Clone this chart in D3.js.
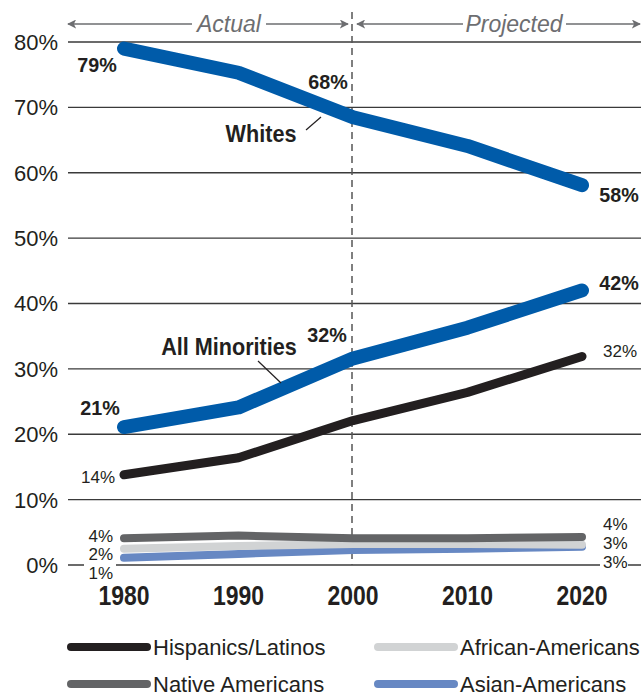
<!DOCTYPE html>
<html>
<head>
<meta charset="utf-8">
<script src="https://cdn.jsdelivr.net/npm/d3@7"></script>
<style>
  body { margin: 0; background: #fff; }
  text { font-family: "Liberation Sans", Arial, sans-serif; fill: #231f20; }
</style>
</head>
<body>
<div id="chart"></div>
<script>
// values (percent of population)
const years = [1980, 1990, 2000, 2010, 2020];
const whites = [79, 75.3, 68.5, 64.1, 58.1];
const minorities = [21.1, 24.1, 31.6, 36.3, 42];
const hispanics = [13.8, 16.4, 22.1, 26.4, 31.9];
const nativeAm = [4.1, 4.5, 4.1, 4.1, 4.3];
const africanAm = [2.5, 2.9, 3.2, 3.2, 3.1];
const asianAm = [1.1, 1.7, 2.3, 2.5, 2.8];
const yTicks = [0, 10, 20, 30, 40, 50, 60, 70, 80];

function drawChart() {
    const width = 643, height = 695;

    const svg = d3.select("#chart").append("svg")
        .attr("width", width)
        .attr("height", height);

    const x = d3.scaleLinear().domain([1980, 2020]).range([124, 582]);
    const y = d3.scaleLinear().domain([0, 80]).range([565, 42]);

    // gridlines
    svg.append("g").selectAll("line")
        .data(yTicks)
        .enter().append("line")
        .attr("x1", 68).attr("x2", 641)
        .attr("y1", d => y(d)).attr("y2", d => y(d))
        .attr("stroke", "#3a3a3a")
        .attr("stroke-width", 1.4);

    // y labels
    svg.append("g").selectAll("text")
        .data(yTicks)
        .enter().append("text")
        .attr("x", 58)
        .attr("y", d => y(d))
        .attr("dy", "0.36em")
        .attr("text-anchor", "end")
        .style("font-size", "22px")
        .text(d => d + "%");

    // x labels (condensed)
    svg.append("g").selectAll("text")
        .data(years)
        .enter().append("text")
        .attr("transform", d => `translate(${x(d)},605) scale(0.82,1)`)
        .attr("text-anchor", "middle")
        .style("font-size", "28px")
        .style("font-weight", "bold")
        .text(d => d);

    // actual / projected divider
    svg.append("line")
        .attr("x1", x(2000) - 1).attr("x2", x(2000) - 1)
        .attr("y1", 12).attr("y2", y(0))
        .attr("stroke", "#555")
        .attr("stroke-width", 1.5)
        .attr("stroke-dasharray", "7,5");

    const defs = svg.append("defs");
    defs.append("marker")
        .attr("id", "arrow")
        .attr("viewBox", "0 0 10 10")
        .attr("refX", 9).attr("refY", 5)
        .attr("markerWidth", 9).attr("markerHeight", 9)
        .attr("markerUnits", "userSpaceOnUse")
        .attr("orient", "auto-start-reverse")
        .append("path")
        .attr("d", "M0,0 L10,5 L0,10 L2.5,5 Z")
        .attr("fill", "#6d6e71");

    const arrowY = 24;
    const arrows = [[68, 192, "start"], [266, x(2000) - 5, "end"], [x(2000) + 4, 463, "start"], [566, 640, "end"]];
    arrows.forEach(a => {
        const l = svg.append("line")
            .attr("x1", a[0]).attr("x2", a[1])
            .attr("y1", arrowY).attr("y2", arrowY)
            .attr("stroke", "#6d6e71")
            .attr("stroke-width", 1.5);
        if (a[2] === "start") l.attr("marker-start", "url(#arrow)");
        else l.attr("marker-end", "url(#arrow)");
    });

    svg.append("text").attr("x", 229).attr("y", arrowY).attr("dy", "0.36em")
        .attr("text-anchor", "middle").style("font-size", "23px").style("font-style", "italic")
        .style("fill", "#6d6e71").text("Actual");
    svg.append("text").attr("x", 514).attr("y", arrowY).attr("dy", "0.36em")
        .attr("text-anchor", "middle").style("font-size", "23px").style("font-style", "italic")
        .style("fill", "#6d6e71").text("Projected");

    const line = d3.line()
        .x((d, i) => x(years[i]))
        .y(d => y(d));

    const series = [
        { values: asianAm, color: "#6788c3", w: 8 },
        { values: africanAm, color: "#d1d3d4", w: 8 },
        { values: nativeAm, color: "#636466", w: 8 },
        { values: hispanics, color: "#231f20", w: 9 },
        { values: minorities, color: "#005ba9", w: 14 },
        { values: whites, color: "#005ba9", w: 14 }
    ];

    svg.append("g").selectAll("path")
        .data(series)
        .enter().append("path")
        .attr("d", d => line(d.values))
        .attr("fill", "none")
        .attr("stroke", d => d.color)
        .attr("stroke-width", d => d.w)
        .attr("stroke-linecap", "round")
        .attr("stroke-linejoin", "round");

    // leader lines
    svg.append("line").attr("x1", 306).attr("y1", 130).attr("x2", 321).attr("y2", 117)
        .attr("stroke", "#231f20").attr("stroke-width", 1.2);
    svg.append("line").attr("x1", 258).attr("y1", 361).attr("x2", 281).attr("y2", 383)
        .attr("stroke", "#231f20").attr("stroke-width", 1.2);

    // bold value labels
    const boldLabels = [
        { t: "79%", x: 97, y: 72, s: 21 },
        { t: "68%", x: 328, y: 89, s: 21 },
        { t: "58%", x: 619, y: 202, s: 21 },
        { t: "42%", x: 619, y: 290, s: 21 },
        { t: "32%", x: 327, y: 342, s: 21 },
        { t: "21%", x: 100, y: 415, s: 21 },
        { t: "Whites", x: 261, y: 142, s: 23 },
        { t: "All Minorities", x: 229, y: 355, s: 23 }
    ];
    svg.append("g").selectAll("text")
        .data(boldLabels)
        .enter().append("text")
        .attr("transform", d => `translate(${d.x},${d.y}) scale(0.94,1)`)
        .attr("text-anchor", "middle")
        .style("font-size", d => d.s + "px")
        .style("font-weight", "bold")
        .text(d => d.t);

    // white patches breaking the baseline under the small labels
    svg.append("rect").attr("x", 84).attr("y", 560).attr("width", 32).attr("height", 20).attr("fill", "#fff");
    svg.append("rect").attr("x", 600).attr("y", 556).attr("width", 28).attr("height", 16).attr("fill", "#fff");

    const smallLabels = [
        { t: "14%", x: 115, y: 483, a: "end" },
        { t: "32%", x: 603, y: 357, a: "start" },
        { t: "4%", x: 113, y: 542, a: "end" },
        { t: "2%", x: 113, y: 560, a: "end" },
        { t: "1%", x: 113, y: 579, a: "end" },
        { t: "4%", x: 603, y: 530, a: "start" },
        { t: "3%", x: 603, y: 549, a: "start" },
        { t: "3%", x: 603, y: 568, a: "start" }
    ];
    svg.append("g").selectAll("text")
        .data(smallLabels)
        .enter().append("text")
        .attr("x", d => d.x).attr("y", d => d.y)
        .attr("text-anchor", d => d.a)
        .style("font-size", "17px")
        .text(d => d.t);

    // legend
    const legendItems = [
        { t: "Hispanics/Latinos", color: "#231f20", col: 0, row: 0 },
        { t: "African-Americans", color: "#d1d3d4", col: 1, row: 0 },
        { t: "Native Americans", color: "#636466", col: 0, row: 1 },
        { t: "Asian-Americans", color: "#6788c3", col: 1, row: 1 }
    ];
    const legend = svg.append("g").selectAll("g")
        .data(legendItems)
        .enter().append("g")
        .attr("transform", d => `translate(${d.col ? 378 : 71},${d.row ? 684 : 647})`);
    legend.append("line")
        .attr("x1", 0).attr("x2", 76)
        .attr("stroke", d => d.color)
        .attr("stroke-width", 8)
        .attr("stroke-linecap", "round");
    legend.append("text")
        .attr("x", 82)
        .attr("dy", "0.36em")
        .style("font-size", "22px")
        .text(d => d.t);
}

drawChart();
</script>
</body>
</html>
